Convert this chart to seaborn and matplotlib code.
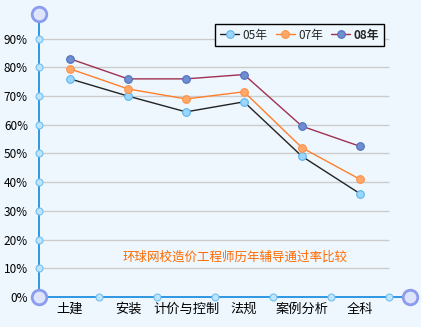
import matplotlib
matplotlib.use("Agg")
import matplotlib.pyplot as plt
import seaborn as sns
import pandas as pd

# Pass rates by subject and year
subjects = ["土建", "安装", "计价与控制", "法规", "案例分析", "全科"]
years = ["05年", "07年", "08年"]
rate_05 = [76, 70, 64.5, 68, 49, 36]
rate_07 = [79.5, 72.5, 69, 71.5, 52, 41]
rate_08 = [83, 76, 76, 77.5, 59.5, 52.5]
y_ticks = [0, 10, 20, 30, 40, 50, 60, 70, 80, 90]
y_tick_labels = [f"{v}%" for v in y_ticks]
caption = "环球网校造价工程师历年辅导通过率比较"

sns.set_theme(style="white")
plt.rcParams["font.family"] = ["Noto Sans CJK SC", "DejaVu Sans"]

bg = "#EEF7FE"
axis_blue = "#1E8FE0"
line_colors = {"05年": "#222222", "07年": "#FF7F2A", "08年": "#A03050"}
face_colors = {"05年": "#9CD6FA", "07年": "#FFA86A", "08年": "#6F8ED0"}
edge_colors = {"05年": "#5AB4F0", "07年": "#FF8F45", "08年": "#4E6FC0"}

df = pd.DataFrame({
    "subject": subjects * 3,
    "pos": list(range(len(subjects))) * 3,
    "rate": rate_05 + rate_07 + rate_08,
    "year": [years[0]] * 6 + [years[1]] * 6 + [years[2]] * 6,
})

fig = plt.figure(figsize=(4.21, 3.27), dpi=100)
fig.patch.set_facecolor(bg)
ax = fig.add_axes([39 / 421, 30 / 327, 371 / 421, 283 / 327])
ax.set_facecolor(bg)

xmin, xmax = -0.534, 5.862
ymin, ymax = 0, 98.6
ax.set_xlim(xmin, xmax)
ax.set_ylim(ymin, ymax)

# horizontal grid
ax.hlines(y_ticks[1:], xmin, 5.5, colors="#CCCCCC", linewidth=1, zorder=1)

for yr in years:
    sub = df[df["year"] == yr]
    sns.lineplot(data=sub, x="pos", y="rate", ax=ax, color=line_colors[yr],
                 linewidth=1.0, marker="o", markersize=5.5,
                 markerfacecolor=face_colors[yr], markeredgecolor=edge_colors[yr],
                 markeredgewidth=0.8, label=yr, zorder=3, legend=False)

for s in ["top", "right"]:
    ax.spines[s].set_visible(False)
ax.spines["left"].set_color(axis_blue)
ax.spines["bottom"].set_color(axis_blue)
ax.spines["left"].set_linewidth(1.3)
ax.spines["bottom"].set_linewidth(1.3)

ax.set_yticks(y_ticks)
ax.set_yticklabels(y_tick_labels, fontsize=8.5, color="black")
ax.set_xticks(range(len(subjects)))
ax.set_xticklabels(subjects, fontsize=9.5, color="black")
ax.tick_params(axis="both", length=0)
ax.tick_params(axis="y", pad=8)
ax.tick_params(axis="x", pad=4)
ax.set_xlabel("")
ax.set_ylabel("")

# small round markers on the axes
ax.plot([xmin] * (len(y_ticks) - 1), y_ticks[1:], "o", ms=5, mfc="#BFE4FC",
        mec="#70C0F0", mew=0.8, clip_on=False, zorder=4)
ax.plot([i + 0.5 for i in range(len(subjects))], [0] * len(subjects), "o",
        ms=5, mfc="#BFE4FC", mec="#70C0F0", mew=0.8, clip_on=False, zorder=4)
# ring ornaments at the axis ends
for px, py in [(xmin, ymax), (xmin, 0), (xmax, 0)]:
    ax.plot(px, py, "o", ms=10.5, mfc="#DDE4FC", mec="#8C9CEC", mew=2,
            clip_on=False, zorder=5)

ax.text(2.84, 14.0, caption, color="#FF6A00", fontsize=9, ha="center",
        va="center")

handles, labels = ax.get_legend_handles_labels()
leg = ax.legend(handles, labels, loc="upper right",
                bbox_to_anchor=(0.930, 0.965), ncol=3, frameon=True,
                fancybox=False, edgecolor="black", facecolor=bg, framealpha=1,
                fontsize=8.5, handlelength=1.6, handletextpad=0.3,
                columnspacing=0.7, borderpad=0.4, borderaxespad=0)
leg.get_frame().set_linewidth(1)
leg.get_texts()[2].set_fontweight("bold")

fig.savefig("out.png", dpi=100, facecolor=bg)
